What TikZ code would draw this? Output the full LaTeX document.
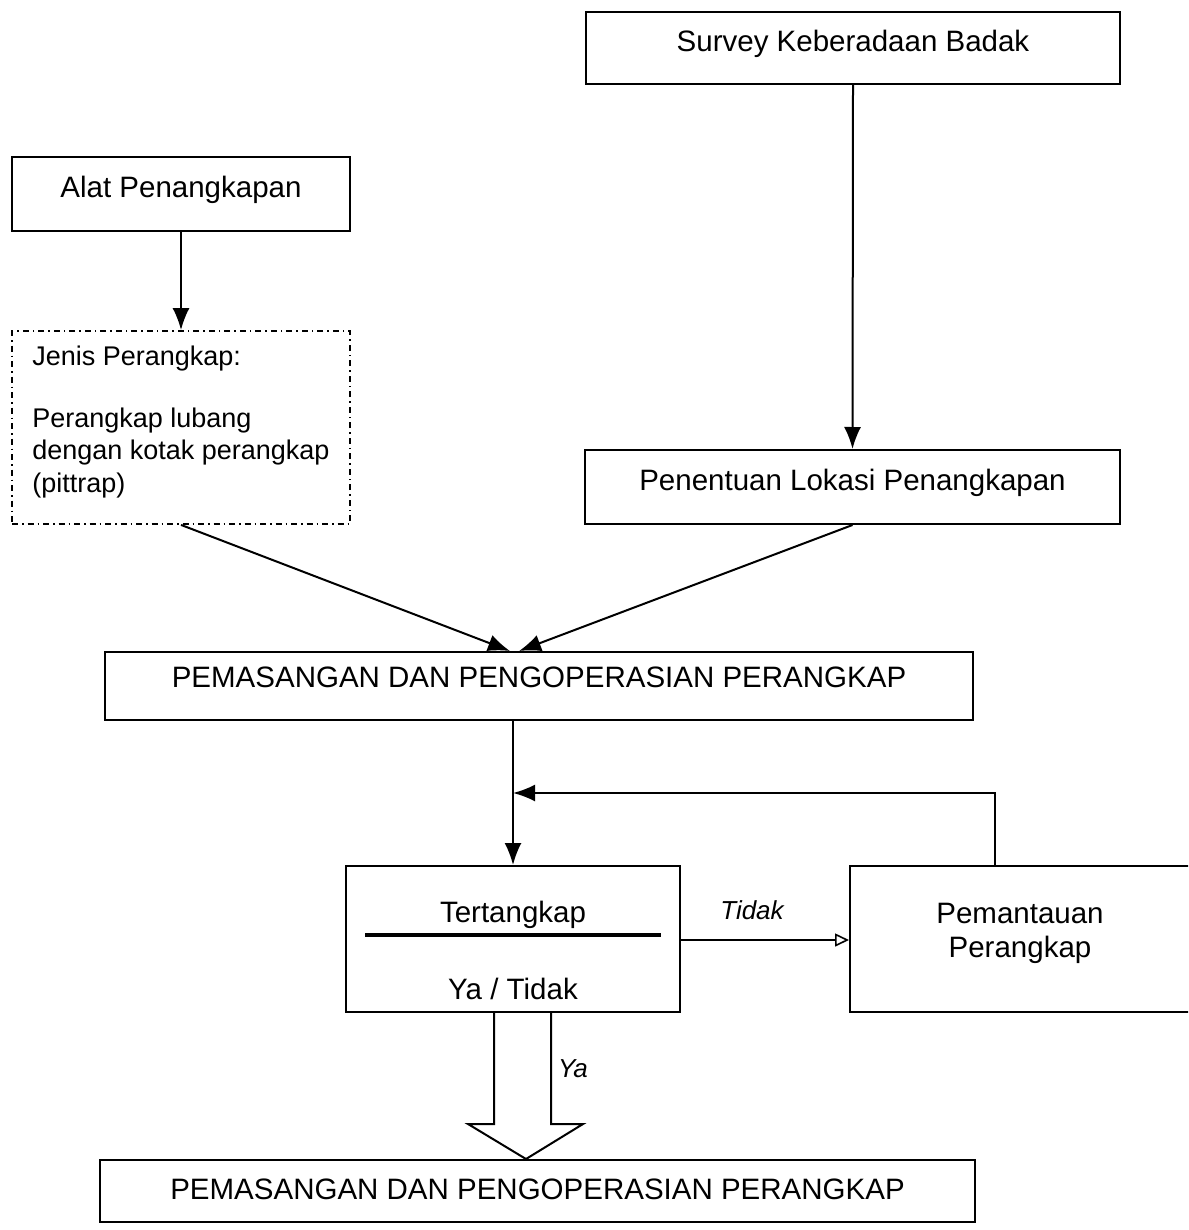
\documentclass[tikz,border=0pt]{standalone}
\usepackage{fontspec}
\setmainfont{Liberation Sans}
\usetikzlibrary{arrows.meta,calc}
\begin{document}
\begin{tikzpicture}[x=1pt,y=-1pt,
  every node/.style={font=\fontsize{29.5}{33}\selectfont},
  box/.style={draw, line width=2pt, inner sep=0pt},
  dbox/.style={box, line width=1.8pt, dash pattern=on 6pt off 4pt on 1.5pt off 4pt},
  lbl/.style={font=\fontsize{26}{30}\selectfont\itshape, inner sep=0pt},
  con/.style={line width=2pt},
  tip/.style={-{Latex[length=22pt,width=17pt]}},
  otip/.style={-{Triangle[open,length=14pt,width=13pt,line width=1.6pt]}}
]
\useasboundingbox (0,0) rectangle (1188,1230);
\clip (0,0) rectangle (1188,1230);
\fill[white] (0,0) rectangle (1188,1230);

% boxes
\node[box, minimum width=534pt, minimum height=72pt] (survey) at (853,48) {};
\node[box, minimum width=338pt, minimum height=74pt] (alat) at (181,194) {};
\node[dbox, minimum width=338pt, minimum height=193pt] (jenis) at (181,427.5) {};
\node[box, minimum width=535pt, minimum height=74pt] (pen) at (852.5,487) {};
\node[box, minimum width=868pt, minimum height=68pt] (pem) at (539,686) {};
\node[box, minimum width=334pt, minimum height=146pt] (tert) at (513,939) {};
\node[box, minimum width=360pt, minimum height=146pt] (mon) at (1030,939) {};
\node[box, minimum width=875pt, minimum height=62pt] (bot) at (537.5,1191) {};

% texts
\node (surveyt) at ([yshift=4pt]survey.center) {Survey Keberadaan Badak};
\node (alatt) at ([yshift=4pt]alat.center) {Alat Penangkapan};
\node (jenist) [anchor=north west, align=left, inner sep=0pt, font=\fontsize{27}{32.5}\selectfont]
  at ([xshift=21pt,yshift=-16pt]jenis.north west)
  {Jenis Perangkap:\\[29pt]Perangkap lubang\\dengan kotak perangkap\\(pittrap)};
\node (pent) at ([yshift=4pt]pen.center) {Penentuan Lokasi Penangkapan};
\node (pemt) at ([yshift=9pt]pem.center) {PEMASANGAN DAN PENGOPERASIAN PERANGKAP};
\node (tertt) at ([yshift=24pt]tert.center) {Tertangkap};
\node (tertyt) at ([yshift=-50pt]tert.center) {Ya / Tidak};
\node (mont) [align=center, font=\fontsize{29.5}{34}\selectfont] at ([xshift=-10pt,yshift=6pt]mon.center) {Pemantauan\\Perangkap};
\node (bott) at ([yshift=2pt]bot.center) {PEMASANGAN DAN PENGOPERASIAN PERANGKAP};
\draw[line width=3.2pt] ([xshift=20pt,yshift=4pt]tert.west) -- ([xshift=-20pt,yshift=4pt]tert.east);

% connectors
\draw[con,tip] (survey.south) -- (pen.north);
\draw[con,tip] (alat.south) -- (jenis.north);
\draw[con,tip] (jenis.south) -- ([xshift=-29pt]pem.north);
\draw[con,tip] (pen.south) -- ([xshift=-20pt]pem.north);
\draw[con,tip] (pem.south -| tert.north) -- (tert.north);
\coordinate (loop) at ($(pem.south -| tert.north)!0.5!(tert.north)$);
\draw[con,tip] ([xshift=-35pt]mon.north) |- (loop);
\draw[con,line width=1.6pt,otip] ([yshift=-1pt]tert.east) -- ([yshift=-1pt]tert.east -| mon.west);
\node[lbl] (tidak) at ($(tert.east)!0.5!(tert.east -| mon.west)+(-13,-29)$) {Tidak};

% block arrow
\coordinate (yax) at ($(tert.south)+(13,0)$);
\draw[con, fill=white, line join=miter]
  ($(tert.south)+(-19,0)$) -- ($(tert.south)+(-19,111)$) -- ($(tert.south)+(-45,111)$)
  -- (yax |- bot.north) -- ($(tert.south)+(70,111)$)
  -- ($(tert.south)+(38,111)$) -- ($(tert.south)+(38,0)$);
\node[lbl] (ya) at ($(tert.south)+(60,56)$) {Ya};
\end{tikzpicture}
\end{document}
